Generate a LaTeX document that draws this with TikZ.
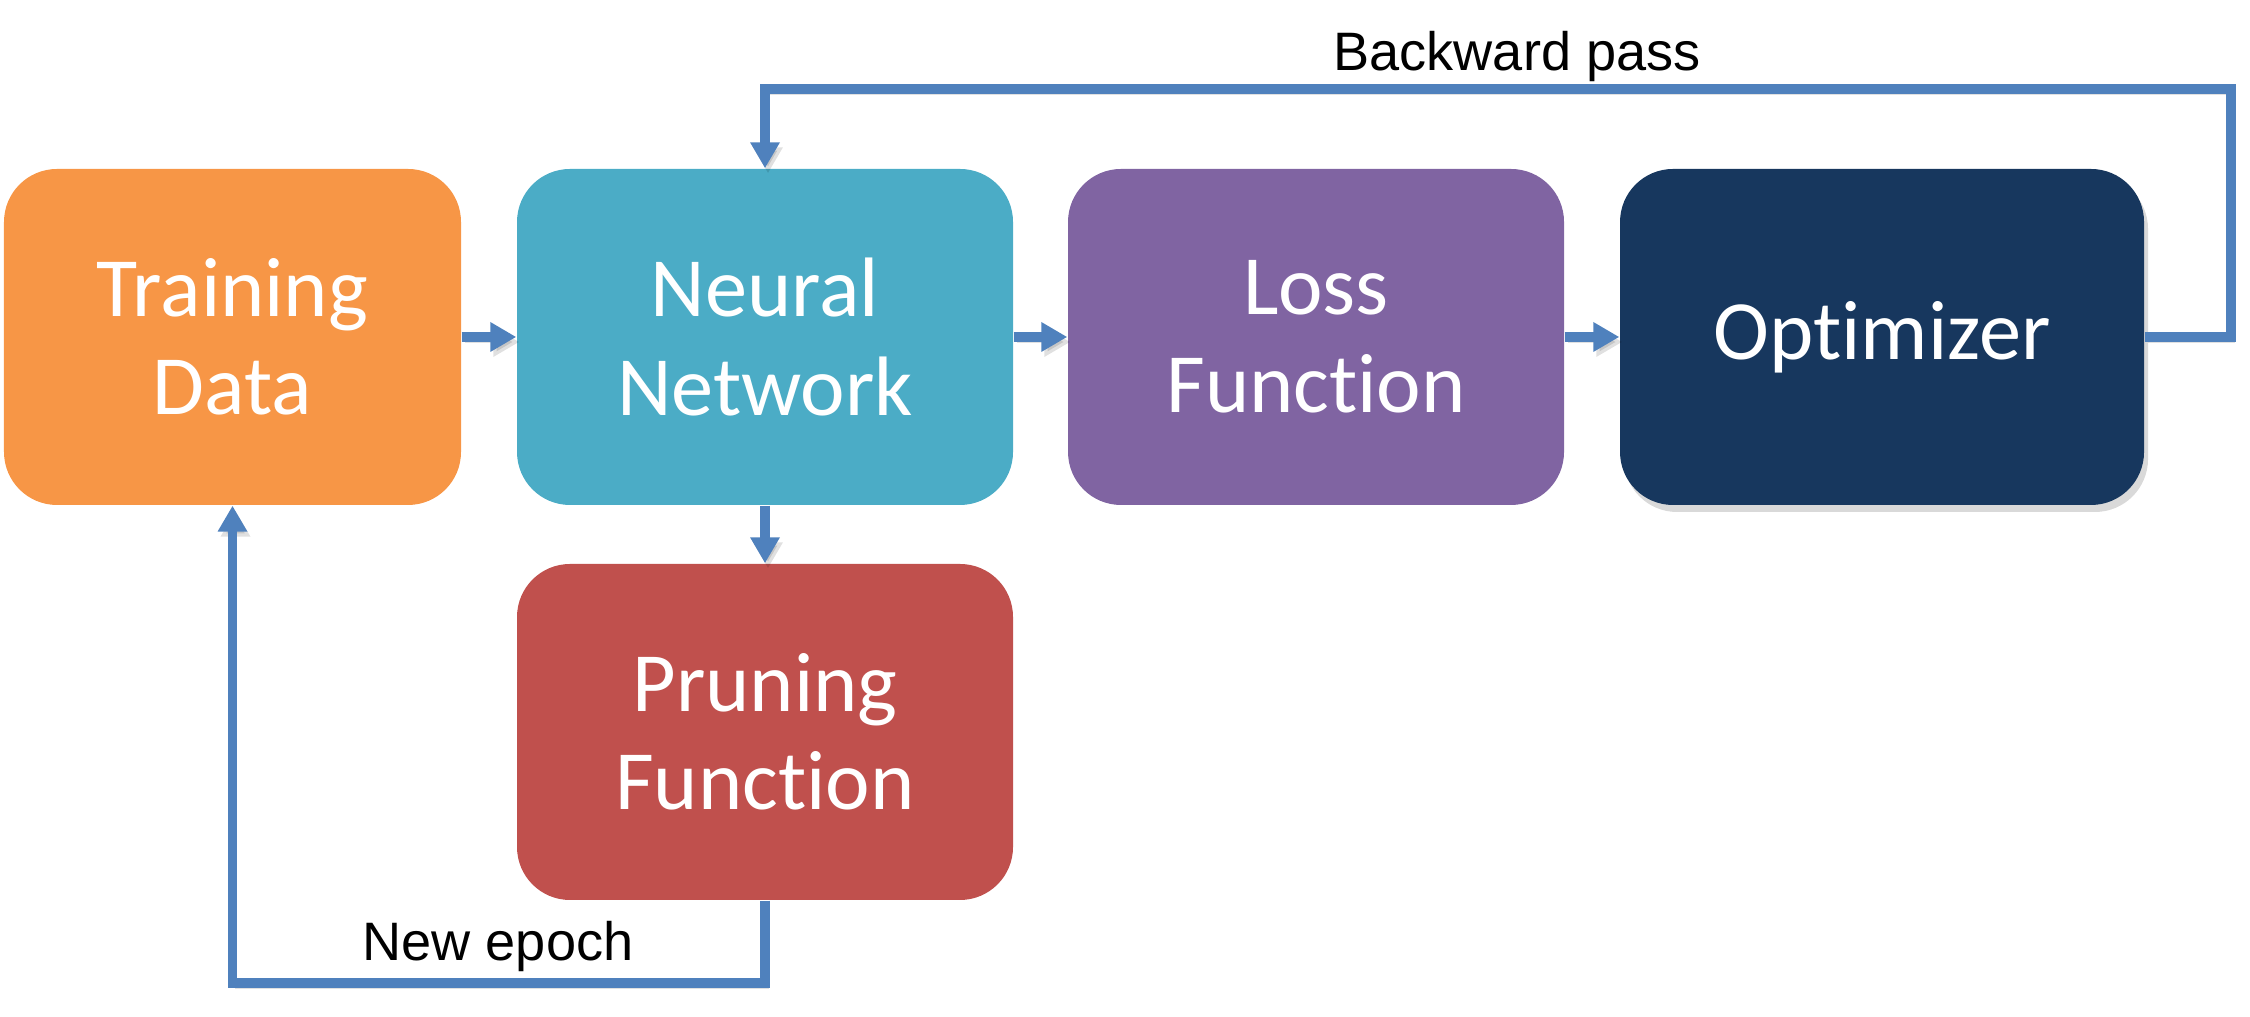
\documentclass[tikz,border=0pt]{standalone}
\usepackage{fontspec}
\setmainfont{Carlito}[RawFeature=-liga]
\newfontfamily\labelfont{Liberation Sans}
\usetikzlibrary{arrows.meta,shadows}

\definecolor{dataorange}{HTML}{F79646}
\definecolor{netcyan}{HTML}{4BACC6}
\definecolor{losspurple}{HTML}{8064A2}
\definecolor{optnavy}{HTML}{17375E}
\definecolor{prunered}{HTML}{C0504D}
\definecolor{flowblue}{HTML}{4F81BD}

\begin{document}
\begin{tikzpicture}[
    box/.style={rounded corners=0.53cm, minimum height=3.36cm, inner sep=0pt,
      text=white, align=center, font=\fontsize{24}{28}\selectfont},
    flow/.style={draw=flowblue, line width=2.6pt,
      -{Triangle[width=0.28cm,length=0.26cm]},
      preaction={draw=black, opacity=0.12, transform canvas={shift={(0.03,-0.05)}}}},
    lbl/.style={font=\labelfont\fontsize{15.4}{18}\selectfont}
  ]
  \useasboundingbox (0,0) rectangle (22.5,10.17);
  % 方框
  \node[box, fill=dataorange, minimum width=4.57cm] (data) at (2.325,6.80) {Training\\Data};
  \node[box, fill=netcyan, minimum width=4.96cm] (net) at (7.65,6.80) {Neural\\Network};
  \node[box, fill=losspurple, minimum width=4.96cm] (loss) at (13.16,6.80) {Loss\\Function};
  \node[box, fill=optnavy, minimum width=5.24cm,
    drop shadow={opacity=0.3, shadow xshift=0.04cm, shadow yshift=-0.07cm}] (opt) at (18.82,6.80) {Optimizer};
  \node[box, fill=prunered, minimum width=4.96cm] (prune) at (7.65,2.85) {Pruning\\Function};
  % 前向箭头
  \draw[flow] (data) -- (net);
  \draw[flow] (net) -- (loss);
  \draw[flow] (loss) -- (opt);
  \draw[flow] (net) -- (prune);
  % 反向传播回路
  \coordinate (back) at (22.31,9.28);
  \draw[flow] (opt.east) -| (back) -| (net.north);
  \node[lbl] (backlbl) at (15.17,9.60) {Backward pass};
  % 新一轮回路
  \coordinate (epoch) at (data.south |- 0,0.34);
  \draw[flow] (prune.south) |- (epoch) -- (data.south);
  \node[lbl] (epochlbl) at (4.98,0.70) {New epoch};
\end{tikzpicture}
\end{document}
